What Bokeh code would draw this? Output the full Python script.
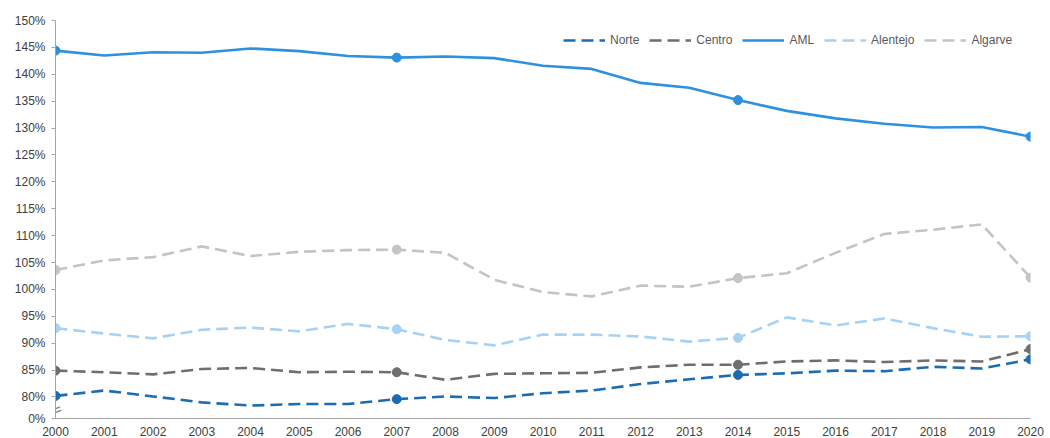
from bokeh.plotting import figure
from bokeh.models import Range1d, FixedTicker, Legend, LegendItem, Label
from bokeh.embed import file_html
from bokeh.resources import INLINE

years = list(range(2000, 2021))
norte = [80.2, 81.2, 80.1, 79.0, 78.4, 78.7, 78.7, 79.6, 80.1, 79.8, 80.7, 81.2, 82.4, 83.3,
         84.1, 84.4, 84.9, 84.8, 85.6, 85.3, 87.0]
centro = [84.9, 84.6, 84.2, 85.2, 85.4, 84.6, 84.7, 84.6, 83.2, 84.3, 84.4, 84.5, 85.5, 86.0,
          86.0, 86.6, 86.8, 86.5, 86.8, 86.6, 88.9]
aml = [144.4, 143.5, 144.1, 144.0, 144.8, 144.3, 143.4, 143.1, 143.3, 143.0, 141.6, 141.0, 138.4,
       137.5, 135.2, 133.2, 131.8, 130.8, 130.1, 130.2, 128.4]
alentejo = [92.8, 91.8, 90.9, 92.5, 92.9, 92.2, 93.6, 92.6, 90.6, 89.6, 91.6, 91.6, 91.25, 90.3,
            91.0, 94.8, 93.3, 94.6, 92.8, 91.2, 91.3]
algarve = [103.6, 105.4, 106.0, 108.0, 106.2, 107.0, 107.3, 107.4, 106.8, 101.8, 99.5, 98.7,
           100.7, 100.5, 102.1, 103.0, 106.8, 110.3, 111.1, 112.1, 102.2]
marker_years = [2000, 2007, 2014, 2020]

series_names = ["Norte", "Centro", "AML", "Alentejo", "Algarve"]
series_values = [norte, centro, aml, alentejo, algarve]
colors = ["#1c6cb3", "#6e6e6e", "#2e91e0", "#a8d2f2", "#c4c4c8"]
dashes = ["12 6", "12 6", "solid", "12 6", "12 6"]

y_ticks = [76] + list(range(80, 151, 5))
y_labels = {t: f"{t}%" for t in y_ticks}
y_labels[76] = "0%"

p = figure(width=1050, height=438, output_backend="svg", toolbar_location=None,
           x_range=Range1d(2000, 2020), y_range=Range1d(76, 150),
           min_border_left=55, min_border_right=20, min_border_top=20, min_border_bottom=10)
p.outline_line_color = None
p.xgrid.visible = False
p.ygrid.visible = False
p.background_fill_color = "white"

items = []
for name, vals, col, dash in zip(series_names, series_values, colors, dashes):
    r = p.line(years, vals, line_color=col, line_width=2.6, line_dash=dash)
    mx = [y for y in years if y in marker_years]
    my = [v for y, v in zip(years, vals) if y in marker_years]
    p.scatter(mx, my, size=9, fill_color=col, line_color=col)
    items.append(LegendItem(label=name, renderers=[r]))

legend = Legend(items=items, orientation="horizontal", location=(508, 371),
                glyph_width=42, glyph_height=14, label_standoff=5, spacing=10,
                padding=0, margin=0, border_line_color=None, background_fill_alpha=0,
                label_text_font="Liberation Sans", label_text_font_size="12px",
                label_text_color="#595959")
p.add_layout(legend, "center")

p.xaxis.ticker = FixedTicker(ticks=years)
p.xaxis.major_tick_line_color = None
p.xaxis.minor_tick_line_color = None
p.xaxis.axis_line_color = "#a6a6a6"
p.xaxis.major_label_standoff = 2
p.xaxis.major_label_text_font = "Liberation Sans"
p.xaxis.major_label_text_font_size = "12px"
p.xaxis.major_label_text_color = "#404040"

p.yaxis.ticker = FixedTicker(ticks=y_ticks)
p.yaxis.major_label_overrides = y_labels
p.yaxis.major_tick_out = 4
p.yaxis.major_tick_in = 0
p.yaxis.minor_tick_line_color = None
p.yaxis.axis_line_color = "#a6a6a6"
p.yaxis.major_tick_line_color = "#a6a6a6"
p.yaxis.major_label_standoff = 6
p.yaxis.major_label_text_font = "Liberation Sans"
p.yaxis.major_label_text_font_size = "12px"
p.yaxis.major_label_text_color = "#404040"

brk = Label(x=years[0], y=y_ticks[0] + 1.6, text="=", angle=0.4, text_align="center",
            text_baseline="middle", text_font_size="17px", text_color="#8a8a8a",
            text_font="DejaVu Sans")
p.add_layout(brk)

open("out.html", "w").write(file_html(p, INLINE))
